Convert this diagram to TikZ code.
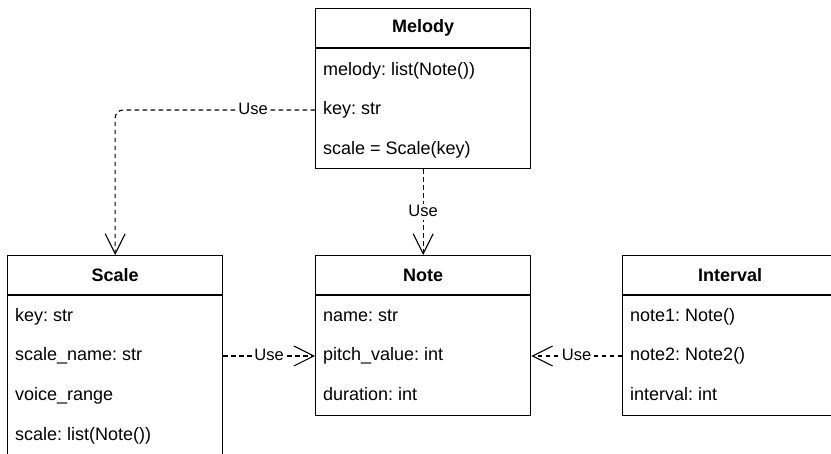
\documentclass[tikz,border=0pt]{standalone}
\usepackage{fontspec}
\setmainfont{Liberation Sans}
\usetikzlibrary{arrows.meta}
\frenchspacing

\tikzset{
  classbox/.style={draw, line width=1.3pt, minimum width=215pt, inner sep=0pt,
                   anchor=north west, fill=white},
  classtitle/.style={font=\fontsize{18}{21}\selectfont\bfseries, inner sep=0pt},
  member/.style={font=\fontsize{18}{21}\selectfont, anchor=west, inner sep=0pt,
                 text height=13pt, text depth=4pt},
  headrule/.style={line width=1.3pt},
  uses/.style={draw, line width=1.1pt, dash pattern=on 4.5pt off 3.5pt,
               -{Straight Barb[length=20pt,width=20pt,line width=1.1pt]}},
  uselabel/.style={font=\fontsize{16.5}{19}\selectfont, fill=white, inner sep=0.5pt,
                   text height=12pt, text depth=3pt}
}

\begin{document}
\begin{tikzpicture}[x=1pt, y=-1pt]
  \useasboundingbox (0,0) rectangle (831,454);
  \clip (0,0) rectangle (831,454);

  % Melody class
  \node[classbox, minimum height=160pt] (mel) at (315,8) {};
  \draw[headrule] ([yshift=-40pt]mel.north west) -- ([yshift=-40pt]mel.north east);
  \node[classtitle] (melT) at ([yshift=-20pt]mel.north) {Melody};
  \node[member] (melA) at ([xshift=8pt,yshift=-63pt]mel.north west) {melody: list(Note())};
  \node[member] (melB) at ([xshift=8pt,yshift=-102pt]mel.north west) {key: str};
  \node[member] (melC) at ([xshift=8pt,yshift=-142pt]mel.north west) {scale = Scale(key)};

  % Scale class (runs past the lower edge)
  \node[classbox, minimum height=220pt] (scl) at (7,255) {};
  \draw[headrule] ([yshift=-40pt]scl.north west) -- ([yshift=-40pt]scl.north east);
  \node[classtitle] (sclT) at ([yshift=-20pt]scl.north) {Scale};
  \node[member] (sclA) at ([xshift=8pt,yshift=-62pt]scl.north west) {key: str};
  \node[member] (sclB) at ([xshift=8pt,yshift=-101pt]scl.north west) {scale\_name: str};
  \node[member] (sclC) at ([xshift=8pt,yshift=-141pt]scl.north west) {voice\_range};
  \node[member] (sclD) at ([xshift=8pt,yshift=-181pt]scl.north west) {scale: list(Note())};

  % Note class
  \node[classbox, minimum height=160pt] (note) at (315,255) {};
  \draw[headrule] ([yshift=-40pt]note.north west) -- ([yshift=-40pt]note.north east);
  \node[classtitle] (noteT) at ([yshift=-20pt]note.north) {Note};
  \node[member] (noteA) at ([xshift=8pt,yshift=-62pt]note.north west) {name: str};
  \node[member] (noteB) at ([xshift=8pt,yshift=-101pt]note.north west) {pitch\_value: int};
  \node[member] (noteC) at ([xshift=8pt,yshift=-141pt]note.north west) {duration: int};

  % Interval class (runs past the right edge)
  \node[classbox, minimum height=160pt] (intv) at (622,255) {};
  \draw[headrule] ([yshift=-40pt]intv.north west) -- ([yshift=-40pt]intv.north east);
  \node[classtitle] (intvT) at ([yshift=-20pt]intv.north) {Interval};
  \node[member] (intvA) at ([xshift=8pt,yshift=-62pt]intv.north west) {note1: Note()};
  \node[member] (intvB) at ([xshift=8pt,yshift=-101pt]intv.north west) {note2: Note2()};
  \node[member] (intvC) at ([xshift=8pt,yshift=-141pt]intv.north west) {interval: int};

  % Dependencies
  \draw[uses, rounded corners=8pt] (mel.west |- melB) -| node[uselabel, pos=0.155] {Use} (scl.north);
  \draw[uses] (mel.south) -- node[uselabel] {Use} (note.north);
  \draw[uses] (scl.east |- sclB) -- node[uselabel] {Use} (note.west |- sclB);
  \draw[uses] (intv.west |- intvB) -- node[uselabel] {Use} (note.east |- intvB);
\end{tikzpicture}
\end{document}
